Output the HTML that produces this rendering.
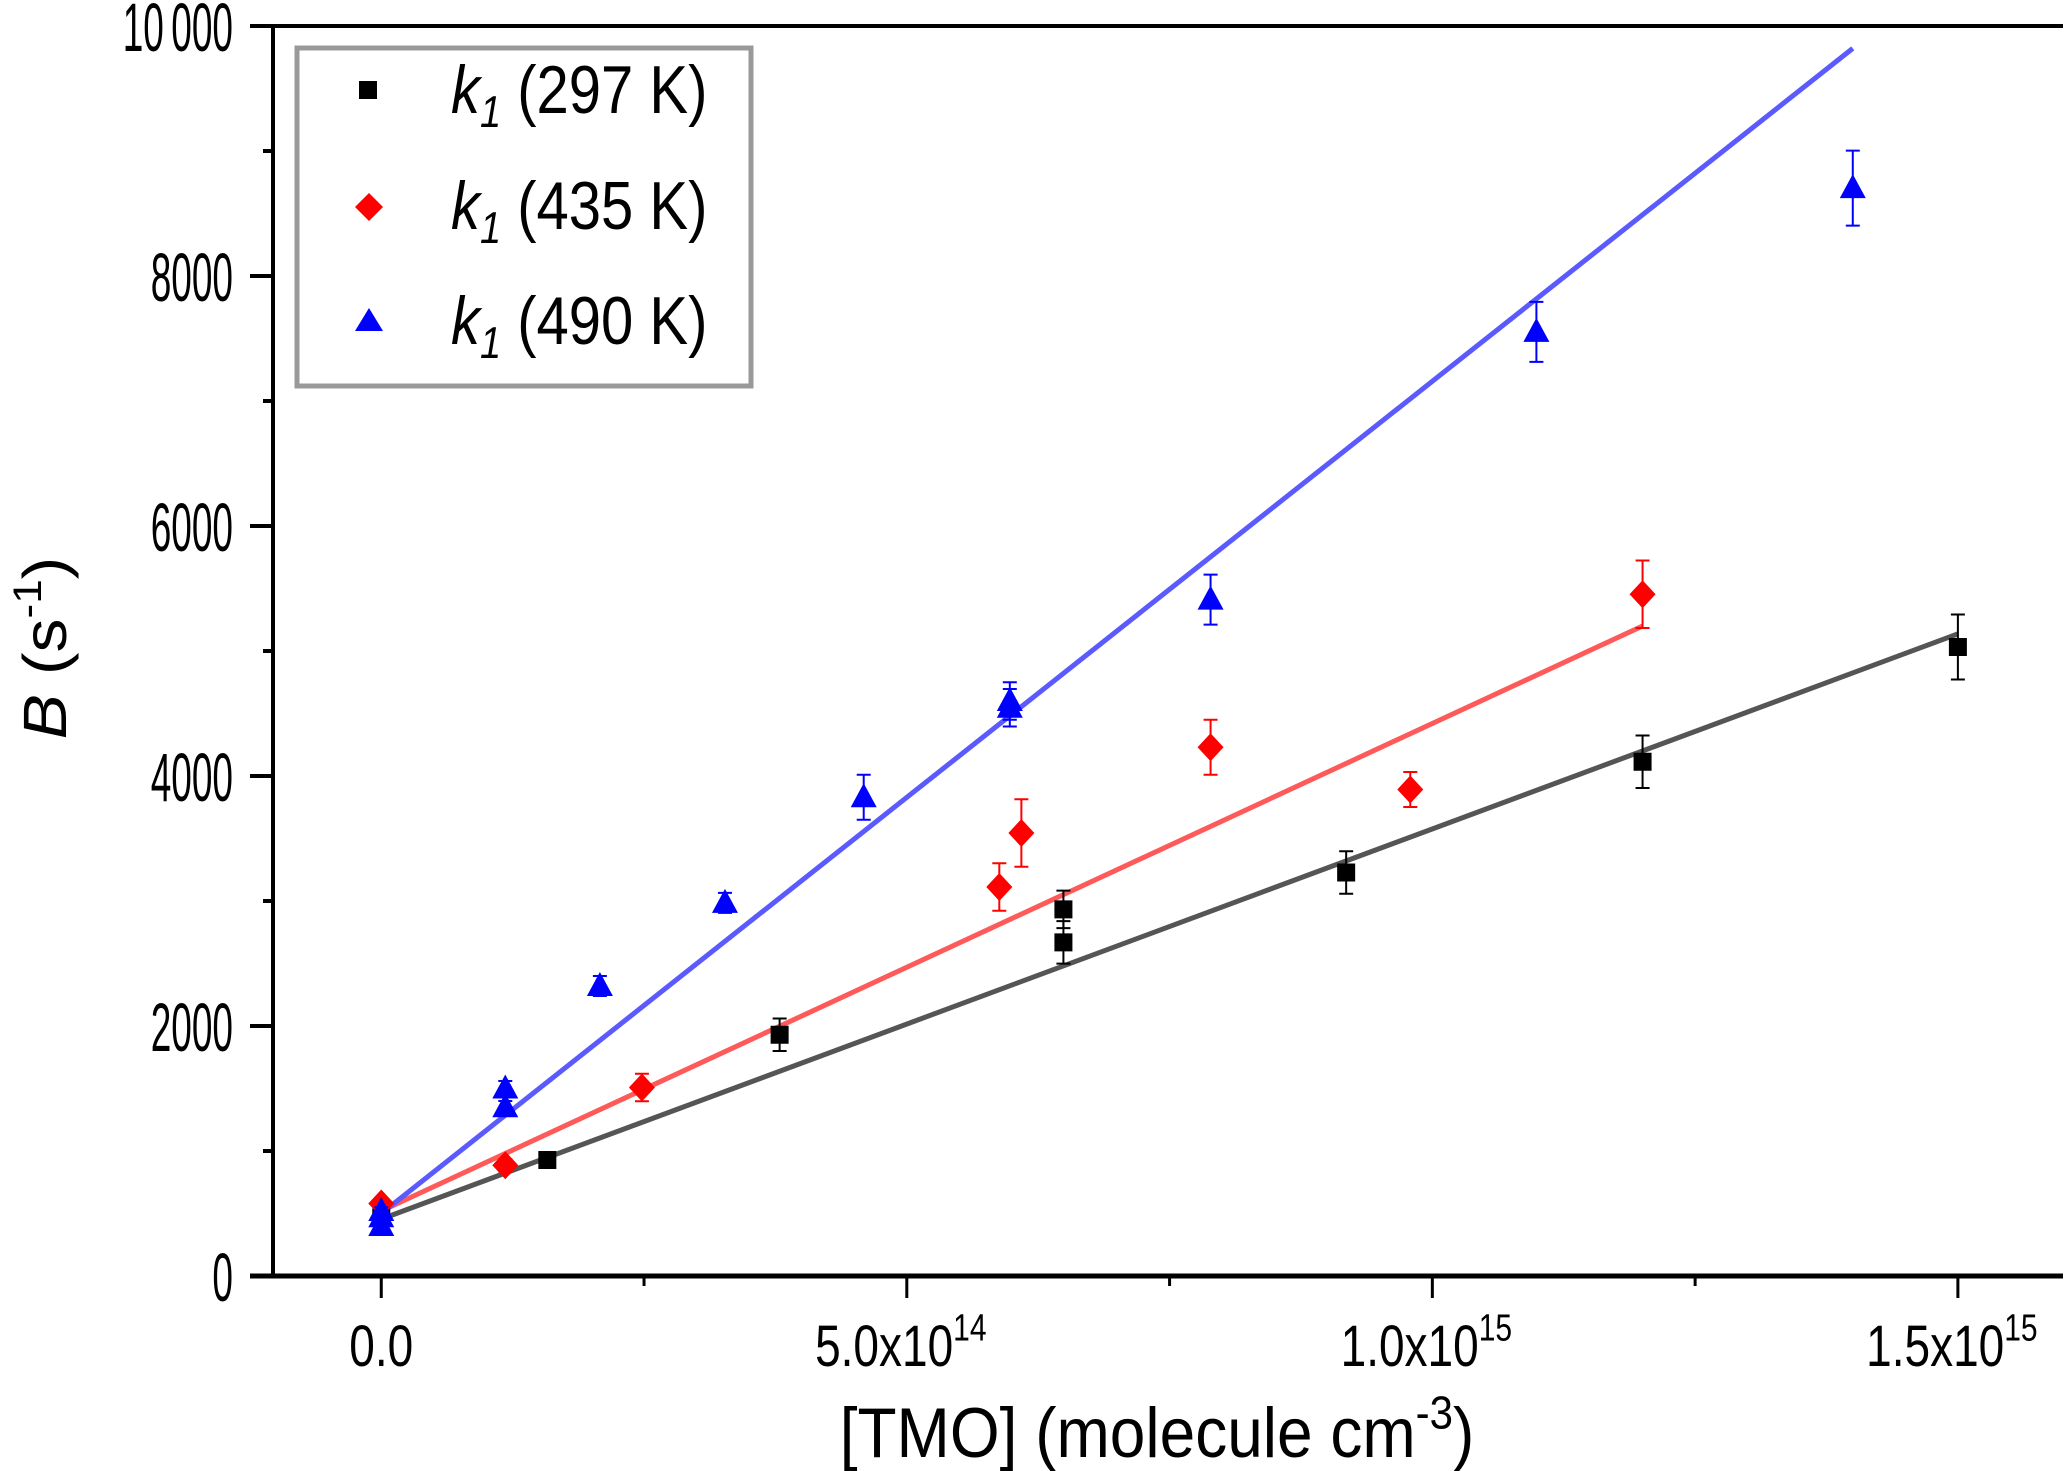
<!DOCTYPE html>
<html><head><meta charset="utf-8"><style>
html,body{margin:0;padding:0;background:#fff;}
svg{display:block;font-family:"Liberation Sans",Arial,sans-serif;}
</style></head><body>
<svg id="chart" width="2067" height="1471" viewBox="0 0 2067 1471" xmlns="http://www.w3.org/2000/svg">
<g id="axes"></g>
<g id="fits"></g>
<g id="marks"></g>
<text transform="translate(1157,1457) scale(1,1.1)" font-size="64" text-anchor="middle">[TMO] (molecule cm<tspan dy="-26" font-size="42">-3</tspan><tspan dy="26">)</tspan></text>
<text transform="translate(66,648) rotate(-90) scale(1,0.9)" font-size="68" text-anchor="middle"><tspan font-style="italic">B</tspan> (s<tspan dy="-28" font-size="44">-1</tspan><tspan dy="28">)</tspan></text>
<g>
<rect x="297" y="48" width="454" height="338" fill="#fff" stroke="#999" stroke-width="5"/>
<rect x="359" y="81" width="18" height="18" fill="#000"/>
<polygon points="369,193 383,207 369,221 355,207" fill="#f00"/>
<polygon points="369,308 383,331 355,331" fill="#00f"/>
<text transform="translate(451,113) scale(1,1.16)" font-size="58"><tspan font-style="italic">k<tspan dy="12" font-size="38">1</tspan></tspan><tspan dy="-12"> (297 K)</tspan></text>
<text transform="translate(451,229) scale(1,1.16)" font-size="58"><tspan font-style="italic">k<tspan dy="12" font-size="38">1</tspan></tspan><tspan dy="-12"> (435 K)</tspan></text>
<text transform="translate(451,344) scale(1,1.16)" font-size="58"><tspan font-style="italic">k<tspan dy="12" font-size="38">1</tspan></tspan><tspan dy="-12"> (490 K)</tspan></text>
</g>
</svg>
<script>
// x in units of 1e14 molecule cm^-3
const blackX=[0,1.58,3.79,6.49,6.49,9.18,12.0,15.0];
const blackY=[470,928,1930,2933,2669,3228,4114,5032];
const blackErr=[40,50,130,150,170,170,210,260];
const redX=[0,1.18,2.48,5.88,6.09,7.89,9.79,12.0];
const redY=[580,886,1508,3112,3544,4230,3892,5454];
const redErr=[40,50,110,190,270,220,140,270];
const blueX=[0,0,0,1.18,1.18,2.08,3.27,4.59,5.98,5.98,7.89,10.99,14.0];
const blueY=[400,470,520,1350,1500,2320,2985,3830,4546,4600,5411,7553,8703];
const blueErr=[30,30,30,50,60,80,80,180,150,150,200,240,300];
const fitBlack=[455,5137];const fitBlackX=[0,15.0];
const fitRed=[520,5200];const fitRedX=[0,12.0];
const fitBlue=[500,9821];const fitBlueX=[0,14.0];
const yTicks=[0,2000,4000,6000,8000,10000];
const yTickLabels=["0","2000","4000","6000","8000","10\u2009000"];
const xTicks=[0,5,10,15];
const xTickMant=["0.0","5.0x10","1.0x10","1.5x10"];
const xTickExp=["","14","15","15"];

const NS="http://www.w3.org/2000/svg";
const X0=273,X1=2063,Y0=1276,Y1=26;
const xmin=-1.03,xmax=16.0;
function sx(v){return X0+(v-xmin)/(xmax-xmin)*(X1-X0);}
function sy(v){return Y0-(v/10000)*(Y0-Y1);}
function mk(tag,attrs,parent){const e=document.createElementNS(NS,tag);for(const k in attrs)e.setAttribute(k,attrs[k]);parent.appendChild(e);return e;}
const axes=document.getElementById('axes');
let e;
e=mk('line',{x1:250,y1:Y0,x2:X1,y2:Y0,stroke:'#000','stroke-width':5},axes);


e=mk('line',{x1:X0,y1:Y0,x2:X0,y2:Y1-2,stroke:'#000','stroke-width':4},axes);


e=mk('line',{x1:250,y1:Y1,x2:X1,y2:Y1,stroke:'#000','stroke-width':4},axes);


for(let v=0;v<=10000;v+=1000){
  const major=v%2000===0;
  e=mk('line',{x1:major?250:263,y1:sy(v),x2:X0,y2:sy(v),stroke:'#000','stroke-width':4},axes);
  
  
}
yTicks.forEach((v,i)=>{
  e=mk('text',{transform:`translate(233,${sy(v)+25}) scale(0.74,1.38)`,'font-size':50,'text-anchor':'end'},axes);
  e.textContent=yTickLabels[i];
  
  
});
for(let v=0;v<=15;v+=2.5){
  const major=v%5===0;
  e=mk('line',{x1:sx(v),y1:Y0,x2:sx(v),y2:Y0+(major?22:10),stroke:'#000','stroke-width':3},axes);
  
  
}
xTicks.forEach((v,i)=>{
  e=mk('text',{transform:`translate(${sx(v)+(xTickExp[i]?-6:0)},1366) scale(1,1.27)`,'font-size':46,'text-anchor':'middle'},axes);
  e.textContent=xTickMant[i];
  if(xTickExp[i]){const t=mk('tspan',{dy:-20,'font-size':30},e);t.textContent=xTickExp[i];}
  
  
});
const fits=document.getElementById('fits');
[[fitBlackX,fitBlack,'#555','fit-line-297k'],[fitRedX,fitRed,'#ff5a5a','fit-line-435k'],[fitBlueX,fitBlue,'#5a5aff','fit-line-490k']].forEach(f=>{
  e=mk('line',{x1:sx(f[0][0]),y1:sy(f[1][0]),x2:sx(f[0][1]),y2:sy(f[1][1]),stroke:f[2],'stroke-width':5},fits);
  
  
});
const marks=document.getElementById('marks');
function series(xs,ys,errs,color,shape,name){
  xs.forEach((xv,i)=>{
    const cx=sx(xv),cy=sy(ys[i]),t=sy(ys[i]+errs[i]),b=sy(ys[i]-errs[i]);
    const g=mk('g',{},marks);
    
    
    mk('line',{x1:cx,y1:t,x2:cx,y2:b,stroke:color,'stroke-width':2},g);
    mk('line',{x1:cx-7,y1:t,x2:cx+7,y2:t,stroke:color,'stroke-width':2},g);
    mk('line',{x1:cx-7,y1:b,x2:cx+7,y2:b,stroke:color,'stroke-width':2},g);
    if(shape==='sq')mk('rect',{x:cx-9,y:cy-9,width:18,height:18,fill:color},g);
    else if(shape==='di')mk('polygon',{points:`${cx},${cy-14} ${cx+13},${cy} ${cx},${cy+14} ${cx-13},${cy}`,fill:color},g);
    else mk('polygon',{points:`${cx},${cy-14} ${cx+13},${cy+10} ${cx-13},${cy+10}`,fill:color},g);
  });
}
series(blackX,blackY,blackErr,'#000','sq','series-297k');
series(redX,redY,redErr,'#f00','di','series-435k');
series(blueX,blueY,blueErr,'#00f','tr','series-490k');
</script>
</body></html>
